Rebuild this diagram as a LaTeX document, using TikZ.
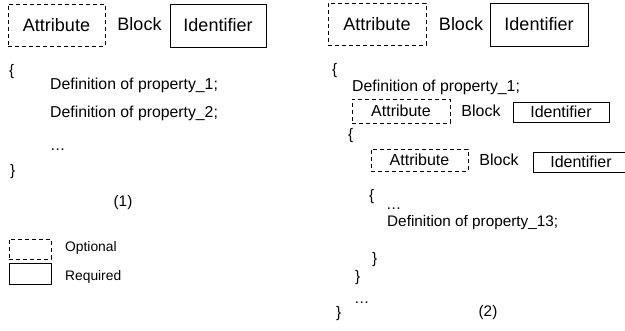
\documentclass[tikz,border=0pt]{standalone}
\usepackage{fontspec}
\setmainfont{Liberation Sans}
\begin{document}
\begin{tikzpicture}[x=1pt,y=-1pt,
  opt/.style={draw,dash pattern=on 4pt off 3pt,line width=0.8pt,inner sep=0pt},
  req/.style={draw,line width=0.8pt,inner sep=0pt},
  txt/.style={inner sep=0pt,anchor=west},
  big/.style={font=\fontsize{18}{20}\selectfont},
  mid/.style={font=\fontsize{16}{18}\selectfont},
  code/.style={font=\fontsize{15.3}{17}\selectfont},
  codeb/.style={font=\fontsize{15.8}{17}\selectfont},
  small/.style={font=\fontsize{13.8}{16}\selectfont}]
\useasboundingbox (0,0) rectangle (625,331);
% ---------- panel (1)
\node[opt,big,minimum width=97pt,minimum height=42pt] (a1) at (56.5,25) {Attribute};
\node[big,inner sep=0pt] (b1) at (139.5,24) {Block};
\node[req,big,minimum width=96pt,minimum height=43pt] (i1) at (218,25.5) {Identifier};
\node[txt,code] (ob1) at (9,72) {\{};
\node[txt,codeb] (d11) at (50,85) {Definition of property\_1;};
\node[txt,codeb] (d12) at (50,113) {Definition of property\_2;};
\node[txt,code] (e1) at (50,150) {…};
\node[txt,code] (cb1) at (10,172) {\}};
\node[code,inner sep=0pt] (n1) at (123,203) {(1)};
% legend
\node[opt,minimum width=42pt,minimum height=20pt] (lo) at (30,249) {};
\node[txt,small] (lot) at (65,248) {Optional};
\node[req,minimum width=42pt,minimum height=21pt] (lr) at (30,273.5) {};
\node[txt,small] (lrt) at (65,277) {Required};
% ---------- panel (2)
\node[opt,big,minimum width=98pt,minimum height=42pt] (a2) at (377,24) {Attribute};
\node[big,inner sep=0pt] (b2) at (461,24) {Block};
\node[req,big,minimum width=98pt,minimum height=43pt] (i2) at (539,24.5) {Identifier};
\node[txt,code] (ob2) at (332,71) {\{};
\node[txt,codeb] (d21) at (352,87) {Definition of property\_1;};
% row 2
\node[opt,mid,minimum width=98pt,minimum height=24pt] (a3) at (401,111) {Attribute};
\node[mid,inner sep=0pt] (b3) at (481,111) {Block};
\node[req,mid,minimum width=96pt,minimum height=20pt] (i3) at (561,112) {Identifier};
\node[txt,code] (ob3) at (348,136) {\{};
% row 3
\node[opt,mid,minimum width=97pt,minimum height=22pt] (a4) at (419.5,160) {Attribute};
\node[mid,inner sep=0pt] (b4) at (499,160) {Block};
\draw[line width=0.8pt] (626,152) -| (533,172) -- (626,172);
\node[mid,inner sep=0pt] (i4) at (581,162) {Identifier};
\node[txt,code] (ob4) at (369,197) {\{};
\node[txt,code] (e4) at (386,209) {…};
\node[txt,code] (d4) at (387,223) {Definition of property\_13;};
\node[txt,code] (cb4) at (372,260) {\}};
\node[txt,code] (cb3) at (355,278) {\}};
\node[txt,code] (e2) at (354,303) {…};
\node[txt,code] (cb2) at (336,314) {\}};
\node[code,inner sep=0pt] (n2) at (488,313) {(2)};
\end{tikzpicture}
\end{document}
